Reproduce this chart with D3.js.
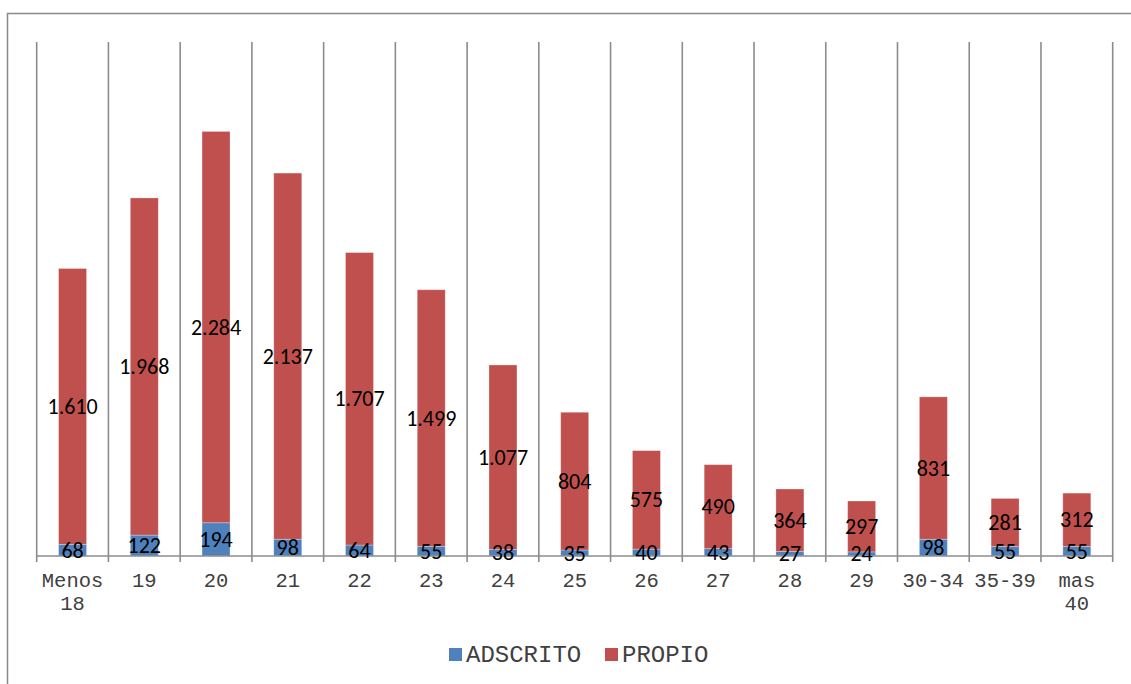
<!DOCTYPE html>
<html><head><meta charset="utf-8">
<script src="https://cdn.jsdelivr.net/npm/d3@7"></script>
<style>body{margin:0;background:#fff;} svg{display:block;}</style>
</head><body>
<svg id="chart" width="1131" height="684"></svg>
<script>
const categories = ["Menos 18","19","20","21","22","23","24","25","26","27","28","29","30-34","35-39","mas 40"];
const adscrito = [68,122,194,98,64,55,38,35,40,43,27,24,98,55,55];
const propio = [1610,1968,2284,2137,1707,1499,1077,804,575,490,364,297,831,281,312];
const seriesNames = ["ADSCRITO","PROPIO"];
const colors = ["#4F81BD","#C0504D"];

(function(){
const svg = d3.select("#chart");
const W = 1131, H = 684;
const pLeft = 36.7, pRight = 1112.7, pTop = 42, pBottom = 556;

// outer border
svg.append("path").attr("d", `M7.5,${H+2} V13.5 H${W+5}`).attr("fill","none").attr("stroke","#898989").attr("stroke-width",1.5);

const x = d3.scaleBand().domain(categories).range([pLeft,pRight]).padding(0);
const y = d3.scaleLinear().domain([0,3000]).range([pBottom,pTop]);
const fmt = d3.formatLocale({decimal:",",thousands:".",grouping:[3],currency:["",""]}).format(",");

// vertical gridlines
const bounds = categories.map(c => x(c)).concat([pRight]);
svg.append("g").selectAll("line").data(bounds).join("line")
  .attr("x1", d=>d).attr("x2", d=>d).attr("y1", pTop).attr("y2", pBottom+6)
  .attr("stroke","#8c8c8c").attr("stroke-width",1.6);

// stacked data
const data = categories.map((c,i)=>({cat:c, ADSCRITO:adscrito[i], PROPIO:propio[i]}));
const stack = d3.stack().keys(seriesNames)(data);
const bw = x.bandwidth()*0.39;

const g = svg.append("g");
stack.forEach((s,si)=>{
  g.selectAll(null).data(s).join("rect")
    .attr("x", d=>x(d.data.cat)+x.bandwidth()/2-bw/2)
    .attr("width", bw)
    .attr("y", d=>y(d[1]))
    .attr("height", d=>y(d[0])-y(d[1]))
    .attr("fill", colors[si])
    .attr("stroke","rgba(255,255,255,0.35)").attr("stroke-width",0.8);
});

// axis line
svg.append("line").attr("x1",pLeft).attr("x2",pRight).attr("y1",pBottom).attr("y2",pBottom)
  .attr("stroke","#8c8c8c").attr("stroke-width",1.6);

// data labels
stack.forEach((s,si)=>{
  svg.append("g").selectAll("text").data(s).join("text")
    .attr("x", d=>x(d.data.cat)+x.bandwidth()/2)
    .attr("y", d=>(y(d[0])+y(d[1]))/2 + 7.5)
    .attr("text-anchor","middle")
    .attr("font-family","Carlito, Lato, 'Open Sans', sans-serif")
    .attr("font-size",22)
    .attr("fill","#000")
    .text(d=>fmt(d[1]-d[0]));
});

// category labels
const catG = svg.append("g");
categories.forEach(c=>{
  const parts = c.split(" ");
  const t = catG.append("text")
    .attr("x", x(c)+x.bandwidth()/2)
    .attr("y", 587)
    .attr("text-anchor","middle")
    .attr("font-family","'Liberation Mono', 'Courier New', monospace")
    .attr("font-size",20.5)
    .attr("fill","#404040");
  parts.forEach((p,i)=>{
    t.append("tspan").attr("x", x(c)+x.bandwidth()/2).attr("dy", i===0?0:23).text(p);
  });
});

// legend
const leg = svg.append("g");
const legX = [449, 605];
seriesNames.forEach((n,i)=>{
  leg.append("rect").attr("x",legX[i]).attr("y",648).attr("width",13).attr("height",13).attr("fill",colors[i]);
  leg.append("text").attr("x",legX[i]+17).attr("y",662)
    .attr("font-family","'Liberation Mono', 'Courier New', monospace")
    .attr("font-size",24).attr("fill","#404040").text(n);
});
})();
</script>
</body></html>
